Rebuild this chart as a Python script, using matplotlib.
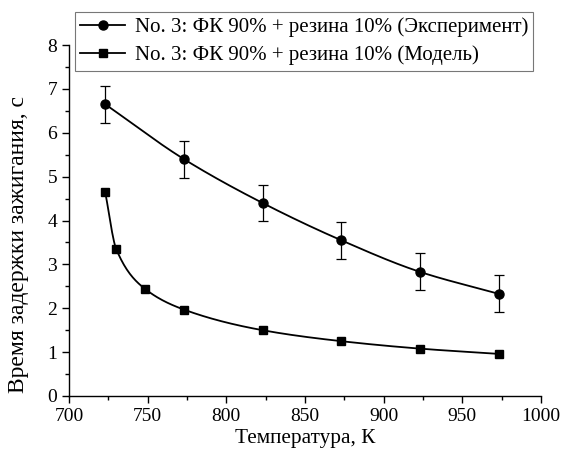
import numpy as np
import matplotlib.pyplot as plt

plt.rcParams['font.family'] = ['Liberation Serif', 'DejaVu Serif']

# ignition delay vs temperature, sample No. 3
temp_exp = [723, 773, 823, 873, 923, 973]
delay_exp = [6.65, 5.40, 4.40, 3.55, 2.83, 2.33]
err_exp = [0.42, 0.42, 0.42, 0.42, 0.42, 0.42]

temp_mod = [723, 730, 748, 773, 823, 873, 923, 973]
delay_mod = [4.65, 3.35, 2.45, 1.97, 1.50, 1.25, 1.08, 0.96]

label_exp = "No. 3: ФК 90% + резина 10% (Эксперимент)"
label_mod = "No. 3: ФК 90% + резина 10% (Модель)"


def pchip(x, y, xs):
    # monotone cubic (Fritsch-Carlson) for a smooth connecting line
    x = np.asarray(x, float); y = np.asarray(y, float)
    h = np.diff(x); d = np.diff(y) / h
    m = np.zeros_like(y)
    for k in range(1, len(x) - 1):
        if d[k - 1] * d[k] > 0:
            w1 = 2 * h[k] + h[k - 1]; w2 = h[k] + 2 * h[k - 1]
            m[k] = (w1 + w2) / (w1 / d[k - 1] + w2 / d[k])
    m[0] = d[0]; m[-1] = d[-1]
    i = np.clip(np.searchsorted(x, xs) - 1, 0, len(x) - 2)
    t = (xs - x[i]) / h[i]
    h00 = 2*t**3 - 3*t**2 + 1; h10 = t**3 - 2*t**2 + t
    h01 = -2*t**3 + 3*t**2; h11 = t**3 - t**2
    return h00*y[i] + h10*h[i]*m[i] + h01*y[i+1] + h11*h[i]*m[i+1]


fig = plt.figure(figsize=(5.65, 4.54), dpi=100)
ax = fig.add_axes([69/565, 58/454, 472/565, 351/454])

xs = np.linspace(temp_exp[0], temp_exp[-1], 300)
ax.plot(xs, pchip(temp_exp, delay_exp, xs), color="black", lw=1.3)
ax.errorbar(temp_exp, delay_exp, yerr=err_exp, fmt="none", ecolor="black",
            elinewidth=0.9, capsize=3.5, capthick=0.9)
ax.plot(temp_exp, delay_exp, "o", color="black", ms=6.5)

xs = np.linspace(temp_mod[0], temp_mod[-1], 400)
ax.plot(xs, pchip(temp_mod, delay_mod, xs), color="black", lw=1.3)
ax.plot(temp_mod, delay_mod, "s", color="black", ms=5.5)

# legend proxies: line with marker in the middle
ax.plot([], [], "-o", color="black", ms=6.5, lw=1.3, label=label_exp)
ax.plot([], [], "-s", color="black", ms=5.5, lw=1.3, label=label_mod)
handles, labels = ax.get_legend_handles_labels()
leg = ax.legend(handles, labels, loc="upper left", bbox_to_anchor=(0.013, 1.094),
                fontsize=15, frameon=True, fancybox=False, edgecolor="#555555",
                borderpad=0.25, handlelength=2.15, handletextpad=0.45,
                labelspacing=0.42, borderaxespad=0.0)
leg.get_frame().set_linewidth(0.8)

ax.set_xlim(700, 1000)
ax.set_ylim(0, 8)
ax.set_xticks(np.arange(700, 1001, 50))
ax.set_xticks(np.arange(725, 1000, 50), minor=True)
ax.set_yticks(np.arange(0, 9, 1))
ax.set_yticks(np.arange(0.5, 8, 1), minor=True)
ax.spines["top"].set_visible(False)
ax.spines["right"].set_visible(False)
for s in ("left", "bottom"):
    ax.spines[s].set_linewidth(1.0)
ax.tick_params(which="major", direction="out", length=5, width=1.0, labelsize=14)
ax.tick_params(which="minor", direction="out", length=3, width=1.0)

ax.set_xlabel("Температура, К", fontsize=15.3, labelpad=3)
ax.set_ylabel("Время задержки зажигания, с", fontsize=17)
ax.yaxis.set_label_coords(-0.085, 0.433)

fig.savefig("out.png", dpi=100)
